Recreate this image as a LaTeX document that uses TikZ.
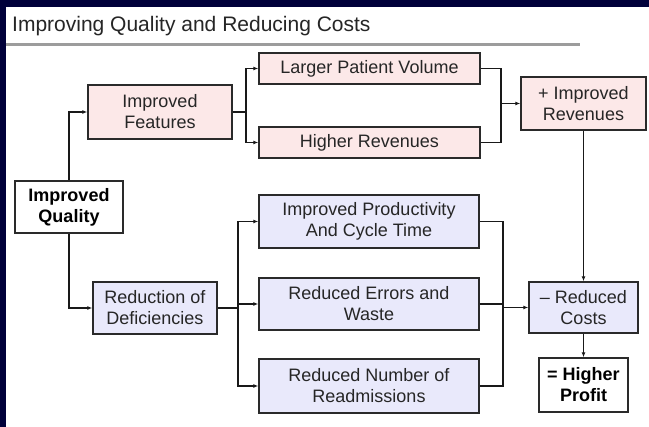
\documentclass[tikz,border=0pt]{standalone}
\usepackage{fontspec}
\setmainfont{Liberation Sans}
\usetikzlibrary{arrows.meta, positioning}
\definecolor{slidenavy}{HTML}{00003A}
\definecolor{rulegray}{HTML}{9C9C9C}
\definecolor{revfill}{HTML}{FCE8E8}
\definecolor{costfill}{HTML}{E9E9FB}
\definecolor{boxline}{HTML}{2A2A2A}
\definecolor{inkgray}{HTML}{262626}
\tikzset{
  stage/.style    = {draw=boxline, line width=1.4pt, align=center,
                     inner sep=0pt, text=inkgray, minimum height=53pt,
                     font=\fontsize{18}{21}\selectfont},
  revbox/.style   = {stage, fill=revfill},
  costbox/.style  = {stage, fill=costfill},
  keybox/.style   = {stage, fill=white, text=black,
                     font=\fontsize{18}{21}\selectfont\bfseries},
  flowline/.style = {draw=black!90, line width=1.2pt},
  flow/.style     = {flowline, -{Latex[length=5pt, width=4pt]}},
  slidetitle/.style = {font=\fontsize{21}{25}\selectfont, text=inkgray,
                       inner sep=0pt, anchor=base west},
}

\begin{document}
\begin{tikzpicture}[x=1pt, y=-1pt]
  % slide frame
  \useasboundingbox (0,0) rectangle (649,427);
  \fill[slidenavy] (0,0) rectangle (649,427);
  \fill[white] (6,7) rectangle (649,427);
  \node[slidetitle] (title) at (12,32) {Improving Quality and Reducing Costs};
  \draw[rulegray, line width=3pt] (6,45) -- (580,45);

  % boxes
  \node[keybox, minimum width=108pt, minimum height=52pt] (qual) at (69,207) {Improved\\Quality};
  \node[revbox, minimum width=144pt, minimum height=54pt] (feat) at (160,112) {Improved\\Features};
  \node[revbox, minimum width=221pt, minimum height=31pt] (vol)  at (369.5,68.5) {Larger Patient Volume};
  \node[revbox, minimum width=221pt, minimum height=31pt] (hrev) at (369.5,142.5) {Higher Revenues};
  \node[revbox, minimum width=125pt] (irev) at (583.5,103.5) {+ Improved\\Revenues};
  \node[costbox, minimum width=124pt, minimum height=52pt] (defi) at (155,308) {Reduction of\\Deficiencies};
  \node[costbox, minimum width=220pt] (prod)  at (369,221.5) {Improved Productivity\\And Cycle Time};
  \node[costbox, minimum width=220pt, minimum height=52pt] (err) at (369,304) {Reduced Errors and\\Waste};
  \node[costbox, minimum width=220pt, minimum height=54pt] (readm) at (369,386) {Reduced Number of\\Readmissions};
  \node[costbox, minimum width=109pt, minimum height=51pt] (cost) at (583.5,307.5) {{\textendash} Reduced\\Costs};
  \node[keybox, minimum width=89pt, minimum height=54pt] (prof) at (583.5,385) {= Higher\\Profit};

  % junctions
  \coordinate (fbus) at (246,112);
  \coordinate (rbus) at (501,103.5);
  \coordinate (dbus) at (238,308);
  \coordinate (cbus) at (503,307.5);

  % connectors
  \draw[flow] (qual.north) |- (feat.west);
  \draw[flow] (qual.south) |- (defi.west);
  \draw[flowline] (feat.east) -- (fbus);
  \foreach \b in {vol, hrev}
    {\draw[flow] (fbus) |- (\b.west);
     \draw[flowline] (\b.east) -| (rbus);}
  \draw[flow] (rbus) -- (irev.west);
  \draw[flowline] (defi.east) -- (dbus);
  \foreach \b in {prod, err, readm}
    {\draw[flow] (dbus) |- (\b.west);
     \draw[flowline] (\b.east) -| (cbus);}
  \draw[flow] (cbus) -- (cost.west);
  \draw[flow] (irev.south) -- (cost.north);
  \draw[flow] (cost.south) -- (prof.north);
\end{tikzpicture}
\end{document}
